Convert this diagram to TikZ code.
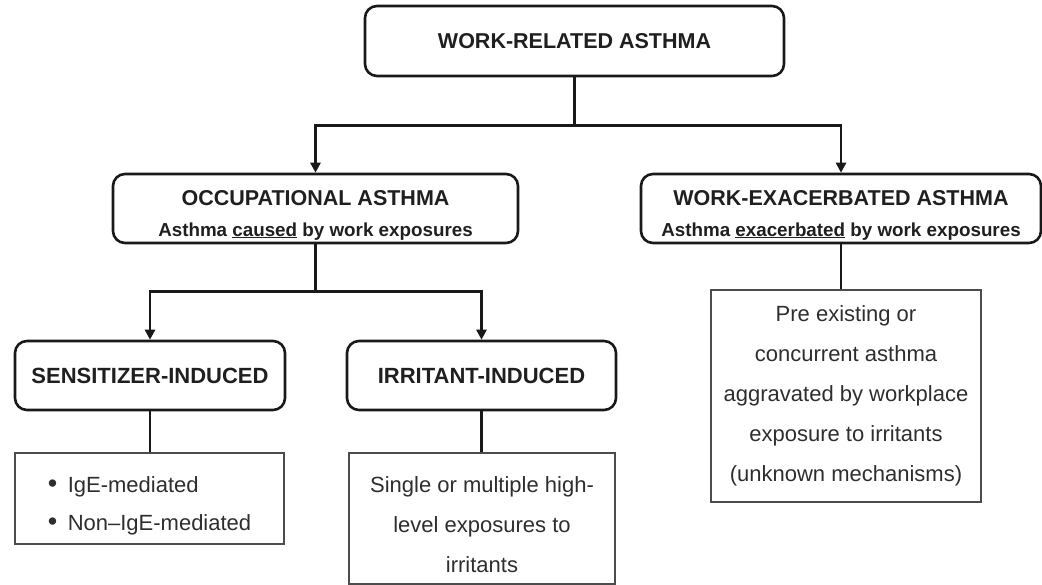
\documentclass[tikz,border=0pt]{standalone}
\usepackage{fontspec}
\setmainfont{Liberation Sans}
\usetikzlibrary{arrows.meta}
\newcommand\ttlfont{\fontsize{21.5}{31}\selectfont\bfseries}
\newcommand\subfont{\fontsize{18.8}{31}\selectfont\bfseries}
\newcommand\bodyfont{\fontsize{22}{40}\selectfont}
\newcommand\mybullet{\makebox[20pt][l]{\fontsize{27}{38}\selectfont\textbullet}}
\tikzset{
  rbox/.style={draw=black!90, line width=2.6pt, rounded corners=12pt, align=center, inner sep=0pt, text=black!88},
  pbox/.style={draw=black!70, line width=1.4pt, align=center, inner sep=0pt, text=black!82},
  conn/.style={draw=black!90, line width=2.6pt},
  arr/.style={conn, -{Triangle[length=10pt,width=10pt]}}
}
\begin{document}
\begin{tikzpicture}[x=1pt,y=-1pt]
\useasboundingbox (0,0) rectangle (1042,585);
% top level
\node[rbox, font=\ttlfont, minimum width=419pt, minimum height=70pt] (top) at (574.5,41) {WORK-RELATED ASTHMA};
% second level
\node[rbox, font=\subfont, minimum width=405pt, minimum height=69pt] (occ) at (315.5,208.5)
  {\rule{0pt}{28pt}{\ttlfont OCCUPATIONAL ASTHMA}\\ Asthma \underline{caused} by work exposures};
\node[rbox, font=\subfont, minimum width=400pt, minimum height=69pt] (wea) at (841,208.5)
  {\rule{0pt}{28pt}{\ttlfont WORK-EXACERBATED ASTHMA}\\ Asthma \underline{exacerbated} by work exposures};
% third level
\node[rbox, font=\fontsize{22}{26}\selectfont\bfseries, minimum width=270pt, minimum height=69pt] (sens) at (150,375.5) {SENSITIZER-INDUCED};
\node[rbox, font=\fontsize{22}{26}\selectfont\bfseries, minimum width=269pt, minimum height=69pt] (irr) at (481.5,375.5) {IRRITANT-INDUCED};
% description boxes
\node[pbox, font=\fontsize{22}{38}\selectfont, minimum width=269pt, minimum height=91pt, align=left] (sensbox) at (149.5,498.5)
  {\rule{0pt}{30pt}\mybullet IgE-mediated\\ \mybullet Non–IgE-mediated\hspace{5pt}};
\node[pbox, font=\bodyfont, minimum width=266pt, minimum height=131pt] (irrbox) at (482,518.5)
  {\rule{0pt}{28pt}Single or multiple high-\\ level exposures to\\ irritants};
\node[pbox, font=\bodyfont, minimum width=270pt, minimum height=212pt] (prebox) at (846,396)
  {Pre existing or\\ concurrent asthma\\ aggravated by workplace\\ exposure to irritants\\ (unknown mechanisms)};
% connectors
\coordinate (j1) at ([yshift=-48pt]top.south);
\coordinate (j2) at ([yshift=-47pt]occ.south);
\draw[conn] (top.south) -- (j1);
\draw[arr] (j1) -| (occ.north);
\draw[arr] (j1) -| (wea.north);
\draw[conn] (occ.south) -- (j2);
\draw[arr] (j2) -| (sens.north);
\draw[arr] (j2) -| (irr.north);
\draw[conn] (sens.south) -- (sens.south |- sensbox.north);
\draw[conn] (irr.south) -- (irr.south |- irrbox.north);
\draw[conn] (wea.south) -- (wea.south |- prebox.north);
\end{tikzpicture}
\end{document}
